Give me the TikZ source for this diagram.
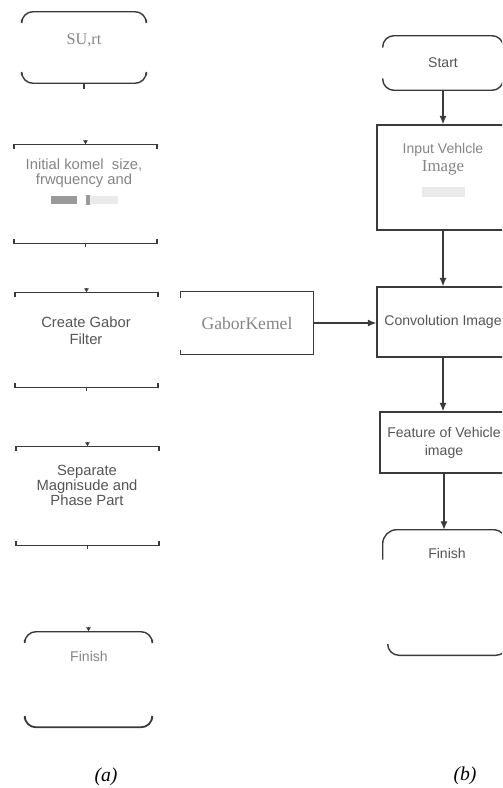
\documentclass[tikz,border=0pt]{standalone}
\usepackage{fontspec}
\setmainfont{Liberation Serif}
\setsansfont{Liberation Sans}
\usetikzlibrary{arrows.meta, positioning, calc}
\definecolor{linegray}{HTML}{3A3A3A}
\definecolor{softtext}{HTML}{858585}
\definecolor{darktext}{HTML}{555555}
\definecolor{patchgray}{HTML}{EAEAEA}
\definecolor{blockgray}{HTML}{9A9A9A}

\begin{document}
\begin{tikzpicture}[x=0.025cm, y=-0.025cm,
  boxa/.style={rectangle, inner sep=0pt, minimum width=3.55cm, minimum height=2.45cm},
  term/.style={rectangle, inner sep=0pt, align=center},
  proc/.style={rectangle, draw=linegray, line width=1pt, inner sep=0pt, align=center,
               font=\sffamily\fontsize{10}{12.8}\selectfont, text=darktext},
  lbl/.style={font=\sffamily\fontsize{10.5}{10.7}\selectfont, text=softtext, align=center},
  dlbl/.style={font=\sffamily\fontsize{10}{12}\selectfont, text=darktext, align=center},
  slbl/.style={font=\rmfamily\fontsize{12.5}{14}\selectfont, text=softtext, align=center},
  rim/.style={draw=linegray, line width=1pt},
  arr/.style={-{Latex[length=6pt, width=5pt]}, draw=linegray, line width=0.8pt},
  stub/.style={-{Latex[length=3pt, width=3.5pt]}, draw=linegray, line width=0.8pt},
  capt/.style={font=\rmfamily\itshape\fontsize{14}{16}\selectfont},
]
\useasboundingbox (0,0) rectangle (502,788);
\clip (0,0) rectangle (502,788);

%% --- (a) kernel steps ---
\node[boxa, minimum width=3.1cm, minimum height=1.775cm] (sa) at (84,47.5) {};
\node[boxa] (ia) at (85.5,194) {};
\node[boxa, minimum height=2.35cm] (ga) at (86.5,340) {};
\node[boxa] (pa) at (87.5,496) {};
\node[boxa, minimum width=3.175cm, minimum height=2.375cm] (fa) at (88.5,679.5) {};

\node[slbl, font=\rmfamily\fontsize{11.5}{13}\selectfont] (sat) at (84,40) {SU,rt};
\node[lbl] (iat) at (84,173) {Initial komel\ \ size,\\frwquency and};
\node[lbl, font=\sffamily\fontsize{10.5}{12}\selectfont, text=darktext] (gat) at (86,330.5) {Create Gabor\\Filter};
\node[lbl, text=darktext] (pat) at (87,485) {Separate\\Magnisude and\\Phase Part};
\node[lbl, font=\sffamily\fontsize{10}{12}\selectfont] (fat) at (89,656) {Finish};

\fill[blockgray] (51,196) rectangle (77,204);
\fill[blockgray] (86,195) rectangle (89.5,205);
\fill[patchgray] (90,196) rectangle (118,204);

\draw[rim, rounded corners=8pt] ([shift={(0,8)}]sa.north west) -- (sa.north west) -- (sa.north east) -- ([shift={(0,8)}]sa.north east);
\draw[rim, rounded corners=8pt] ([shift={(0,-8)}]sa.south west) -- (sa.south west) -- (sa.south east) -- ([shift={(0,-8)}]sa.south east);
\draw[rim] (sa.south) -- ++(0,6);

\foreach \b in {ia,ga,pa} {
  \draw[rim] ([shift={(0,4)}]\b.north west) -- (\b.north west) -- (\b.north east) -- ([shift={(0,4)}]\b.north east);
  \draw[rim] ([shift={(0,-4)}]\b.south west) -- (\b.south west) -- (\b.south east) -- ([shift={(0,-4)}]\b.south east);
  \draw[stub] ([shift={(0,-5)}]\b.north) -- (\b.north);
  \draw[rim] (\b.south) -- ++(0,4);
}

\draw[rim, rounded corners=8pt] ([shift={(0,8)}]fa.north west) -- (fa.north west) -- (fa.north east) -- ([shift={(0,8)}]fa.north east);
\draw[rim, line width=1.3pt, rounded corners=8pt] ([shift={(0,-8)}]fa.south west) -- (fa.south west) -- (fa.south east) -- ([shift={(0,-8)}]fa.south east);
\draw[stub] ([shift={(0,-5)}]fa.north) -- (fa.north);

\node[capt] (capa) at (106,777) {(a)};

%% --- (b) vehicle image steps ---
\node[term, minimum width=3cm, minimum height=1.35cm, font=\sffamily\fontsize{10}{12}\selectfont, text=darktext] (st) at (443,63) {Start};
\node[proc, minimum width=3.3cm, minimum height=2.625cm] (iv) at (443,177.5) {};
\node[proc, minimum width=3.3cm, minimum height=1.75cm] (cv) at (443,322) {Convolution Image};
\node[proc, minimum width=3.2cm, minimum height=1.525cm] (fv) at (444,442.5) {Feature of Vehicle\\image};
\node[term, minimum width=3.1cm, minimum height=3.125cm] (fn) at (445,592.5) {};
\node[term, minimum width=3.3cm, minimum height=1.55cm, font=\rmfamily\fontsize{12.5}{14}\selectfont, text=softtext] (gk) at (247,323) {GaborKemel};

\node[proc, draw=none, text=softtext] (ivt) at (443,159) {Input Vehlcle\\{\rmfamily\fontsize{12}{13}\selectfont Image}};
\fill[patchgray] (422,187) rectangle (465,197);
\node[dlbl] (fnt) at (447,553) {Finish};

\draw[rim, rounded corners=8pt] ([shift={(0,12)}]st.north west) -- (st.north west) -- (st.north east) -- ([shift={(0,12)}]st.north east);
\draw[rim, rounded corners=8pt] ([shift={(0,-12)}]st.south west) -- (st.south west) -- (st.south east) -- ([shift={(0,-12)}]st.south east);
\draw[rim, rounded corners=10pt] ([shift={(0,30)}]fn.north west) -- (fn.north west) -- (fn.north east) -- ([shift={(0,30)}]fn.north east);
\draw[rim, rounded corners=8pt] ([shift={(5,-10)}]fn.south west) -- ([shift={(5,0)}]fn.south west) -- (fn.south east) -- ([shift={(0,-10)}]fn.south east);
\draw[rim] ([shift={(0,6)}]gk.north west) -- (gk.north west) -- (gk.north east) -- (gk.south east) -- (gk.south west) -- ++(0,-4);

\draw[arr] (st.south) -- (st.south |- iv.north);
\draw[arr] (iv.south) -- (iv.south |- cv.north);
\draw[arr] (cv.south) -- (cv.south |- fv.north);
\draw[arr] (fv.south) -- (fv.south |- fn.north);
\draw[arr] (gk.east) -- (gk.east -| cv.west);

\node[capt] (capb) at (465,776) {(b)};
\end{tikzpicture}
\end{document}
